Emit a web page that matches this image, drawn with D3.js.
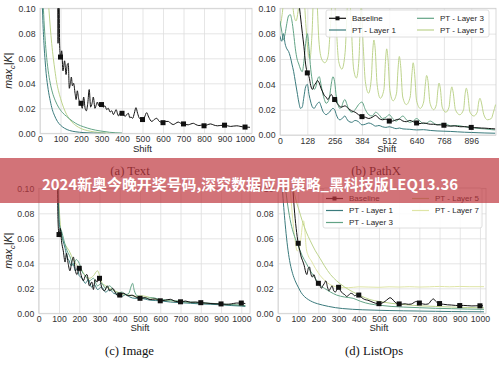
<!DOCTYPE html>
<html>
<head>
<meta charset="utf-8">
<script src="https://cdn.jsdelivr.net/npm/d3@7"></script>
<style>
  body { margin: 0; background: #fff; }
</style>
</head>
<body>
<div id="vis"></div>
<script>
// ---- ticks ----
const yTicks = [0, 0.02, 0.04, 0.06, 0.08, 0.10];
const ticks100 = [0, 100, 200, 300, 400, 500, 600, 700, 800, 900, 1000];
const ticks128 = [0, 128, 256, 384, 512, 640, 768, 896];

// ---- (a) Text : [shift, max_c|K|] ----
const textBaseline = [[86,0.135],[88,0.072],[92,0.118],[96,0.07],[100,0.061],[106,0.066],[112,0.05],[120,0.058],[127,0.047],[133,0.055],[138,0.056],[143,0.036],[148,0.04],[153,0.045],[158,0.038],[164,0.04],[171,0.032],[176,0.027],[182,0.034],[188,0.028],[194,0.025],[200,0.024],[206,0.02],[213,0.029],[220,0.02],[226,0.018],[233,0.024],[240,0.035],[247,0.021],[254,0.024],[260,0.029],[268,0.02],[275,0.023],[280,0.025],[287,0.022],[293,0.024],[300,0.023],[309,0.021],[317,0.022],[325,0.019],[333,0.02],[342,0.017],[350,0.018],[358,0.015],[365,0.017],[371,0.019],[382,0.014],[390,0.016],[400,0.016],[408,0.015],[415,0.0135],[423,0.015],[431,0.016],[438,0.0125],[444,0.013],[452,0.012],[460,0.016],[468,0.0205],[476,0.016],[485,0.012],[492,0.0115],[500,0.011],[510,0.013],[520,0.0165],[530,0.013],[545,0.0095],[557,0.011],[569,0.012],[582,0.0095],[590,0.009],[600,0.0085],[613,0.0095],[626,0.0095],[638,0.008],[650,0.007],[662,0.008],[674,0.009],[687,0.008],[700,0.0075],[712,0.007],[723,0.0068],[736,0.0075],[748,0.008],[760,0.007],[775,0.0062],[788,0.0065],[800,0.006],[816,0.0068],[832,0.0075],[848,0.0066],[865,0.006],[882,0.0063],[900,0.0065],[915,0.006],[930,0.0055],[945,0.0058],[960,0.006],[975,0.0056],[988,0.0052],[1000,0.005],[1015,0.0049],[1024,0.0048]];
const textLayer1 = [[10,0.11],[14,0.09],[20,0.07],[25,0.058],[30,0.048],[40,0.035],[50,0.026],[60,0.019],[70,0.0145],[85,0.0095],[100,0.0065],[120,0.004],[145,0.0022],[175,0.0012],[210,0.0006],[260,0.0002],[320,0]];
const textLayer3 = [[14,0.11],[18,0.095],[24,0.078],[30,0.065],[40,0.05],[50,0.04],[60,0.033],[75,0.026],[90,0.021],[110,0.0165],[130,0.0135],[160,0.0095],[185,0.007],[211,0.0053],[250,0.0033],[293,0.0019],[340,0.0008],[400,0.0002]];
const textLayer5 = [[38,0.11],[44,0.098],[50,0.085],[57,0.072],[65,0.06],[73,0.05],[81,0.041],[90,0.034],[100,0.028],[114,0.021],[130,0.015],[150,0.01],[175,0.0062],[200,0.0038],[230,0.0022],[265,0.0011],[300,0.0004],[340,0]];

// ---- (b) PathX ----
const pathxBaseline = [[85,0.11],[95,0.095],[105,0.08],[112,0.07],[120,0.056],[128,0.049],[136,0.046],[144,0.039],[152,0.036],[160,0.039],[168,0.041],[176,0.043],[184,0.041],[192,0.037],[200,0.034],[208,0.031],[216,0.03],[224,0.028],[232,0.03],[240,0.032],[248,0.03],[256,0.028],[264,0.026],[272,0.024],[288,0.022],[304,0.023],[320,0.021],[336,0.019],[352,0.018],[368,0.016],[384,0.0145],[400,0.014],[416,0.013],[432,0.014],[448,0.0155],[464,0.013],[480,0.012],[496,0.0125],[512,0.011],[528,0.011],[544,0.012],[560,0.0125],[576,0.011],[592,0.0105],[608,0.0115],[624,0.0105],[640,0.0095],[656,0.009],[672,0.0095],[688,0.009],[704,0.0085],[720,0.0085],[736,0.008],[752,0.008],[768,0.0077],[784,0.0072],[800,0.007],[816,0.0072],[832,0.0068],[848,0.0065],[864,0.0066],[880,0.0063],[896,0.006],[912,0.0058],[928,0.0057],[944,0.0055],[960,0.0054],[976,0.0052],[992,0.005],[1008,0.0048]];
const pathxLayer1 = [[0,0.078],[8,0.074],[16,0.08],[24,0.072],[32,0.068],[40,0.066],[48,0.062],[56,0.056],[64,0.05],[72,0.042],[80,0.034],[88,0.026],[96,0.021],[104,0.022],[112,0.03],[120,0.038],[128,0.04],[136,0.032],[144,0.026],[152,0.022],[160,0.021],[168,0.023],[176,0.025],[184,0.026],[192,0.023],[200,0.019],[208,0.017],[216,0.016],[224,0.017],[232,0.018],[240,0.02],[248,0.021],[256,0.02],[264,0.016],[272,0.013],[280,0.012],[288,0.0125],[296,0.014],[304,0.015],[312,0.013],[320,0.011],[336,0.01],[352,0.0115],[368,0.0105],[384,0.008],[400,0.0085],[416,0.0095],[432,0.0085],[448,0.007],[464,0.0075],[480,0.0065],[496,0.006],[512,0.0065],[528,0.0058],[544,0.005],[560,0.0055],[576,0.0048],[608,0.0045],[640,0.004],[672,0.0042],[704,0.0036],[736,0.0032],[768,0.003],[800,0.0028],[832,0.0025],[864,0.0022],[896,0.002],[928,0.0018],[960,0.0016],[1008,0.0014]];
const pathxLayer3 = [[0,0.09],[8,0.082],[16,0.075],[24,0.08],[32,0.088],[40,0.094],[48,0.095],[56,0.09],[64,0.08],[72,0.068],[80,0.06],[88,0.056],[96,0.052],[104,0.05],[112,0.058],[120,0.072],[128,0.08],[136,0.068],[144,0.052],[152,0.042],[160,0.036],[168,0.038],[176,0.044],[184,0.046],[192,0.04],[200,0.033],[208,0.028],[216,0.025],[224,0.026],[232,0.03],[240,0.04],[248,0.046],[256,0.042],[264,0.03],[272,0.024],[280,0.021],[288,0.022],[296,0.026],[304,0.028],[312,0.025],[320,0.021],[336,0.018],[352,0.02],[368,0.024],[384,0.026],[400,0.02],[416,0.016],[432,0.015],[448,0.018],[464,0.016],[480,0.013],[496,0.014],[512,0.016],[528,0.013],[544,0.011],[560,0.013],[576,0.015],[592,0.012],[608,0.01],[624,0.011],[640,0.013],[656,0.011],[672,0.009],[688,0.0095],[704,0.011],[720,0.0095],[736,0.0082],[752,0.0085],[768,0.0092],[784,0.0082],[800,0.0072],[832,0.0075],[864,0.0065],[896,0.006],[928,0.0052],[960,0.0048],[992,0.0042],[1008,0.004]];
const pathxLayer5 = [[0,0.085],[10,0.095],[20,0.11],[40,0.12],[55,0.11],[65,0.095],[75,0.09],[90,0.105],[100,0.12],[112,0.11],[122,0.085],[132,0.065],[140,0.06],[150,0.08],[160,0.12],[172,0.11],[182,0.075],[195,0.06],[210,0.057],[225,0.062],[238,0.09],[250,0.12],[262,0.09],[275,0.058],[290,0.052],[305,0.065],[315,0.1],[323,0.12],[333,0.09],[345,0.052],[358,0.045],[370,0.06],[380,0.1],[390,0.07],[400,0.042],[415,0.033],[428,0.045],[434,0.065],[440,0.075],[446,0.068],[455,0.04],[470,0.029],[487,0.036],[494,0.058],[500,0.068],[506,0.06],[515,0.035],[530,0.027],[546,0.033],[553,0.052],[559,0.062],[565,0.055],[575,0.03],[592,0.024],[610,0.03],[618,0.048],[624,0.057],[630,0.05],[640,0.027],[657,0.021],[673,0.026],[681,0.04],[687,0.047],[693,0.043],[703,0.025],[720,0.02],[733,0.024],[740,0.036],[745,0.041],[751,0.037],[760,0.022],[777,0.018],[792,0.022],[799,0.033],[805,0.038],[811,0.034],[822,0.02],[842,0.016],[860,0.02],[867,0.032],[873,0.037],[879,0.033],[890,0.018],[908,0.015],[924,0.018],[931,0.026],[937,0.029],[943,0.026],[955,0.016],[972,0.012],[990,0.013],[1000,0.018],[1010,0.024]];

// ---- (c) Image ----
const imageBaseline = [[92,0.12],[95,0.075],[100,0.063],[106,0.068],[113,0.057],[121,0.05],[130,0.041],[137,0.048],[145,0.04],[154,0.034],[162,0.04],[171,0.045],[180,0.035],[188,0.031],[200,0.036],[210,0.03],[220,0.026],[230,0.03],[238,0.031],[250,0.022],[262,0.025],[270,0.019],[278,0.027],[288,0.025],[300,0.028],[312,0.02],[325,0.018],[338,0.022],[350,0.018],[365,0.02],[380,0.016],[390,0.014],[400,0.0146],[420,0.016],[440,0.014],[460,0.0145],[480,0.013],[500,0.012],[525,0.0125],[550,0.011],[575,0.0115],[600,0.01],[625,0.0105],[650,0.0112],[675,0.0095],[700,0.0092],[725,0.0098],[750,0.0088],[775,0.009],[800,0.0085],[825,0.0082],[850,0.0078],[875,0.0076],[900,0.0075],[925,0.0072],[950,0.0075],[975,0.0082],[1000,0.0082],[1020,0.0078]];
const imageLayer1 = [[95,0.11],[100,0.075],[110,0.065],[120,0.058],[130,0.052],[140,0.045],[150,0.042],[160,0.038],[170,0.04],[180,0.034],[190,0.036],[200,0.03],[215,0.028],[230,0.024],[245,0.027],[260,0.021],[275,0.023],[290,0.019],[310,0.021],[330,0.017],[350,0.019],[370,0.016],[390,0.015],[410,0.0135],[430,0.015],[450,0.013],[475,0.012],[500,0.012],[550,0.0105],[600,0.01],[650,0.009],[700,0.0085],[750,0.008],[800,0.0075],[850,0.0072],[900,0.0068],[950,0.0062],[1000,0.0058],[1020,0.0055]];
const imageLayer3 = [[95,0.1],[102,0.07],[112,0.066],[125,0.058],[140,0.05],[155,0.045],[170,0.038],[185,0.043],[200,0.04],[215,0.033],[230,0.03],[250,0.026],[270,0.028],[290,0.022],[310,0.024],[330,0.02],[350,0.022],[370,0.018],[390,0.016],[410,0.017],[430,0.015],[445,0.016],[455,0.021],[463,0.024],[472,0.018],[485,0.014],[500,0.013],[530,0.012],[560,0.0125],[600,0.011],[650,0.0105],[700,0.0095],[750,0.009],[800,0.0085],[850,0.008],[900,0.0075],[950,0.007],[1000,0.0065],[1020,0.0062]];
const imageLayer5 = [[96,0.1],[105,0.074],[115,0.06],[130,0.055],[150,0.05],[170,0.043],[190,0.038],[210,0.035],[230,0.03],[250,0.028],[270,0.03],[290,0.034],[310,0.025],[330,0.022],[360,0.019],[390,0.017],[420,0.015],[450,0.0145],[480,0.0135],[500,0.014],[530,0.0135],[560,0.012],[600,0.0105],[650,0.01],[700,0.0095],[750,0.0085],[800,0.008],[850,0.0078],[900,0.007],[950,0.0068],[1000,0.0062],[1020,0.006]];

// ---- (d) ListOps ----
const listopsBaseline = [[70,0.11],[80,0.085],[90,0.068],[100,0.056],[108,0.05],[115,0.045],[122,0.042],[130,0.038],[137,0.033],[143,0.031],[150,0.036],[156,0.037],[162,0.032],[170,0.029],[178,0.031],[186,0.027],[193,0.025],[200,0.024],[208,0.022],[215,0.02],[222,0.022],[230,0.024],[237,0.026],[245,0.021],[252,0.018],[260,0.02],[268,0.022],[276,0.018],[284,0.017],[292,0.019],[300,0.0208],[310,0.018],[320,0.016],[330,0.015],[340,0.0135],[350,0.0145],[360,0.016],[370,0.0155],[380,0.014],[390,0.0148],[400,0.0146],[415,0.0125],[430,0.011],[445,0.0105],[460,0.0095],[475,0.0085],[490,0.0078],[500,0.0077],[515,0.0082],[530,0.0095],[545,0.0115],[555,0.0125],[565,0.0115],[580,0.0088],[590,0.0078],[600,0.0075],[615,0.0074],[630,0.0076],[645,0.0072],[660,0.0074],[675,0.0088],[685,0.0095],[695,0.0086],[700,0.0082],[715,0.0076],[730,0.0072],[745,0.0076],[760,0.0105],[770,0.0115],[780,0.0098],[790,0.0084],[800,0.0078],[820,0.0072],[840,0.0068],[860,0.0066],[880,0.0063],[900,0.0062],[920,0.0063],[940,0.0061],[960,0.0059],[980,0.006],[1000,0.006],[1015,0.0061]];
const listopsLayer1 = [[18,0.11],[25,0.092],[32,0.078],[40,0.064],[50,0.05],[60,0.04],[72,0.032],[85,0.026],[100,0.021],[115,0.0165],[130,0.0135],[150,0.011],[170,0.0092],[195,0.0077],[220,0.0066],[250,0.0055],[285,0.0045],[320,0.0038],[370,0.0032],[420,0.0028],[480,0.0025],[550,0.0022],[620,0.002],[700,0.0018],[780,0.0016],[860,0.0014],[940,0.0013],[1020,0.0012]];
const listopsLayer3 = [[30,0.11],[45,0.09],[60,0.075],[75,0.065],[90,0.058],[105,0.052],[120,0.046],[140,0.04],[160,0.034],[185,0.028],[208,0.0226],[230,0.02],[260,0.017],[290,0.0146],[330,0.013],[372,0.012],[410,0.0095],[455,0.0075],[500,0.0065],[560,0.0055],[620,0.005],[700,0.0045],[780,0.004],[860,0.0037],[940,0.0034],[1020,0.0032]];
const listopsLayer5 = [[60,0.11],[75,0.1],[90,0.09],[105,0.082],[120,0.074],[140,0.065],[160,0.058],[185,0.05],[208,0.044],[230,0.038],[260,0.031],[290,0.026],[330,0.021],[372,0.017],[410,0.014],[455,0.011],[500,0.0095],[560,0.008],[620,0.007],[700,0.006],[780,0.0055],[860,0.005],[940,0.0046],[1020,0.0044]];
const listopsLayer7 = [[55,0.11],[65,0.09],[75,0.072],[85,0.058],[95,0.05],[105,0.052],[115,0.062],[122,0.072],[127,0.074],[133,0.066],[140,0.052],[150,0.046],[165,0.042],[185,0.036],[210,0.03],[240,0.025],[270,0.022],[300,0.021],[350,0.0205],[400,0.0212],[450,0.021],[500,0.0208],[550,0.0212],[600,0.021],[650,0.0213],[700,0.021],[750,0.0212],[800,0.0215],[850,0.0212],[900,0.0215],[950,0.0213],[1020,0.0213]];

// ---- labels ----
const seriesLabels = { base: 'Baseline', l1: 'PT - Layer 1', l3: 'PT - Layer 3', l5: 'PT - Layer 5', l7: 'PT - Layer 7' };
const captions = ['(a) Text', '(b) PathX', '(c) Image', '(d) ListOps'];
const bannerText = '2024新奥今晚开奖号码,深究数据应用策略_黑科技版LEQ13.36';

const colors = { base: '#111111', l1: '#3a7a7c', l3: '#62a385', l5: '#bdd38c', l7: '#dfe5a6' };
const gridColor = '#dedede';
const sansFont = 'Liberation Sans, Arial, sans-serif';

const svg = d3.select('#vis').append('svg')
    .attr('width', 499)
    .attr('height', 365);

svg.append('rect').attr('width', 499).attr('height', 365).attr('fill', '#fff');

const panels = [
    { name: 'a', left: 40, right: 252, top: 8.3, bottom: 133.3, xMax: 1034, xTicks: ticks100, markEvery: 100,
      series: { l5: textLayer5, l3: textLayer3, l1: textLayer1, base: textBaseline },
      yLabelX: 12, shiftY: 151.5, caption: captions[0], capX: 130, capY: 174.5 },
    { name: 'b', left: 280, right: 496, top: 8.3, bottom: 135, xMax: 1012, xTicks: ticks128, markEvery: 128,
      series: { l5: pathxLayer5, l3: pathxLayer3, l1: pathxLayer1, base: pathxBaseline },
      shiftY: 152, caption: captions[1], capX: 376, capY: 174.5,
      legend: { x: 326, y: 10, w: 163, h: 27, cols: [329, 417], rows: [18.3, 30],
                items: [['base', 0, 0], ['l1', 0, 1], ['l3', 1, 0], ['l5', 1, 1]] } },
    { name: 'c', left: 38.75, right: 250, top: 188.3, bottom: 313.3, xMax: 1043, xTicks: ticks100, markEvery: 100,
      series: { l5: imageLayer5, l3: imageLayer3, l1: imageLayer1, base: imageBaseline },
      yLabelX: 12, shiftY: 331, caption: captions[2], capX: 129.5, capY: 354.5 },
    { name: 'd', left: 278, right: 486, top: 188.3, bottom: 313.3, xMax: 1030, xTicks: ticks100, markEvery: 100,
      series: { l7: listopsLayer7, l5: listopsLayer5, l3: listopsLayer3, l1: listopsLayer1, base: listopsBaseline },
      shiftY: 331, caption: captions[3], capX: 374, capY: 354.5,
      legend: { x: 323, y: 188, w: 159, h: 40, cols: [326, 412], rows: [198.5, 210.5, 222.5],
                items: [['base', 0, 0], ['l1', 0, 1], ['l3', 0, 2], ['l5', 1, 0], ['l7', 1, 1]] } }
];

panels.forEach(drawPanel);
drawBanner();

function drawPanel(p) {
    const w = p.right - p.left;
    const h = p.bottom - p.top;
    const x = d3.scaleLinear().domain([0, p.xMax]).range([p.left, p.right]);
    const y = d3.scaleLinear().domain([0, 0.10]).range([p.bottom, p.top]);

    svg.append('rect')
        .attr('x', p.left).attr('y', p.top)
        .attr('width', w).attr('height', h)
        .attr('fill', '#fff');

    // x grid + tick labels
    const gx = svg.append('g')
        .attr('transform', `translate(0,${p.bottom})`)
        .call(d3.axisBottom(x).tickValues(p.xTicks).tickSize(-h).tickPadding(2.5).tickFormat(d3.format('d')));
    gx.select('.domain').remove();
    gx.selectAll('line').attr('stroke', gridColor).attr('stroke-width', 0.8);
    gx.selectAll('text')
        .attr('font-family', sansFont)
        .attr('font-size', '8.7px')
        .attr('fill', '#333');

    // y grid + tick labels
    const gy = svg.append('g')
        .attr('transform', `translate(${p.left},0)`)
        .call(d3.axisLeft(y).tickValues(yTicks).tickSize(-w).tickPadding(4.5).tickFormat(d3.format('.2f')));
    gy.select('.domain').remove();
    gy.selectAll('line').attr('stroke', gridColor).attr('stroke-width', 0.8);
    gy.selectAll('text')
        .attr('font-family', sansFont)
        .attr('font-size', '8.7px')
        .attr('fill', '#333');

    // frame
    svg.append('rect')
        .attr('x', p.left).attr('y', p.top)
        .attr('width', w).attr('height', h)
        .attr('fill', 'none')
        .attr('stroke', '#cfcfcf')
        .attr('stroke-width', 0.8);

    const clipId = 'clip-' + p.name;
    svg.append('clipPath').attr('id', clipId)
        .append('rect')
        .attr('x', p.left).attr('y', p.top)
        .attr('width', w).attr('height', h);

    const line = d3.line()
        .x(d => x(d[0]))
        .y(d => y(d[1]))
        .curve(d3.curveMonotoneX);

    const plot = svg.append('g').attr('clip-path', `url(#${clipId})`);

    Object.keys(p.series).forEach(key => {
        plot.append('path')
            .datum(p.series[key])
            .attr('d', line)
            .attr('fill', 'none')
            .attr('stroke', colors[key])
            .attr('stroke-width', 1)
            .attr('stroke-linejoin', 'round');
    });

    const marks = p.series.base.filter(d => d[0] > 0 && d[0] % p.markEvery === 0);
    plot.selectAll('.mark')
        .data(marks)
        .join('rect')
        .attr('x', d => x(d[0]) - 2.5)
        .attr('y', d => y(d[1]) - 2.5)
        .attr('width', 5)
        .attr('height', 5)
        .attr('fill', colors.base);

    if (p.legend) drawLegend(p.legend);

    // axis label, centred under the 0..1000 range
    svg.append('text')
        .attr('x', (p.left + Math.min(p.right, x(1000))) / 2)
        .attr('y', p.shiftY)
        .attr('text-anchor', 'middle')
        .attr('font-family', sansFont)
        .attr('font-size', '9.5px')
        .attr('fill', '#262626')
        .text('Shift');

    if (p.yLabelX) {
        const t = svg.append('text')
            .attr('transform', `translate(${p.yLabelX},${(p.top + p.bottom) / 2}) rotate(-90)`)
            .attr('text-anchor', 'middle')
            .attr('font-family', sansFont)
            .attr('font-size', '10.5px')
            .attr('font-style', 'italic')
            .attr('fill', '#262626');
        t.append('tspan').text('max');
        t.append('tspan').attr('dy', 2.5).attr('font-size', '7.5px').text('c');
        t.append('tspan').attr('dy', -2.5).text('|K|');
    }

    svg.append('text')
        .attr('x', p.capX)
        .attr('y', p.capY)
        .attr('text-anchor', 'middle')
        .attr('font-family', 'Liberation Serif, Times New Roman, serif')
        .attr('font-size', '12.7px')
        .attr('fill', '#111')
        .text(p.caption);
}

function drawLegend(lg) {
    const g = svg.append('g');
    g.append('rect')
        .attr('x', lg.x).attr('y', lg.y)
        .attr('width', lg.w).attr('height', lg.h)
        .attr('rx', 2)
        .attr('fill', '#fff')
        .attr('fill-opacity', 0.85)
        .attr('stroke', '#d6d6d6')
        .attr('stroke-width', 0.8);

    lg.items.forEach(([key, c, r]) => {
        const lx = lg.cols[c];
        const ly = lg.rows[r];
        g.append('line')
            .attr('x1', lx).attr('x2', lx + 17)
            .attr('y1', ly).attr('y2', ly)
            .attr('stroke', colors[key])
            .attr('stroke-width', 1.2);
        if (key === 'base') {
            g.append('rect')
                .attr('x', lx + 8.5 - 2).attr('y', ly - 2)
                .attr('width', 4).attr('height', 4)
                .attr('fill', colors.base);
        }
        g.append('text')
            .attr('x', lx + 23)
            .attr('y', ly)
            .attr('dy', '0.35em')
            .attr('font-family', sansFont)
            .attr('font-size', '8px')
            .attr('fill', '#262626')
            .text(seriesLabels[key]);
    });
}

function drawBanner() {
    svg.append('rect')
        .attr('x', 0).attr('y', 158)
        .attr('width', 499).attr('height', 45)
        .attr('fill', 'rgb(191,55,62)')
        .attr('fill-opacity', 0.7);

    svg.append('text')
        .attr('x', 250)
        .attr('y', 190)
        .attr('text-anchor', 'middle')
        .attr('font-family', 'Noto Sans CJK SC, Noto Sans, sans-serif')
        .attr('font-weight', 'bold')
        .attr('font-size', '14.5px')
        .attr('fill', '#fff')
        .attr('textLength', 416)
        .attr('lengthAdjust', 'spacingAndGlyphs')
        .text(bannerText);
}
</script>
</body>
</html>
